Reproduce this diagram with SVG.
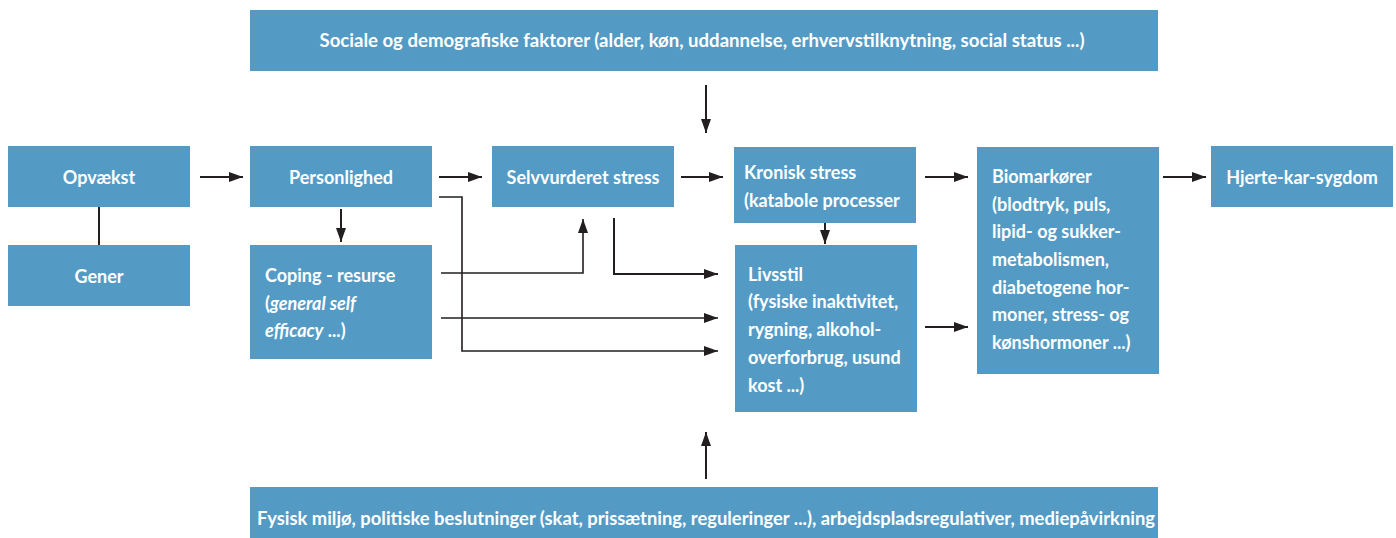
<svg xmlns="http://www.w3.org/2000/svg" width="1396" height="538" viewBox="0 0 1396 538">
<defs>
<style>
.box{fill:#539bc5}
.t{font-family:Lato,"Open Sans","Liberation Sans",sans-serif;font-weight:bold;font-size:18px;fill:#ffffff}
.c{text-anchor:middle}
.ln{fill:none;stroke:#231f20;stroke-width:2}
.thin{fill:none;stroke:#231f20;stroke-width:1.6}
</style>
<marker id="ah" markerUnits="userSpaceOnUse" markerWidth="14" markerHeight="10" refX="14" refY="5" orient="auto">
<path d="M0,0 L14,5 L0,10 z" fill="#231f20"/>
</marker>
</defs>
<rect width="1396" height="538" fill="#ffffff"/>
<g id="sociale">
<rect class="box" x="250" y="10" width="908" height="61"/>
<text class="t c" x="702" y="47" textLength="765" lengthAdjust="spacingAndGlyphs">Sociale og demografiske faktorer (alder, køn, uddannelse, erhvervstilknytning, social status ...)</text>
</g>
<g id="fysisk">
<rect class="box" x="250" y="487" width="908" height="51"/>
<text class="t c" x="706" y="525" textLength="898" lengthAdjust="spacingAndGlyphs">Fysisk miljø, politiske beslutninger (skat, prissætning, reguleringer ...), arbejdspladsregulativer, mediepåvirkning</text>
</g>
<g id="opvaekst">
<rect class="box" x="8" y="146" width="182" height="61"/>
<text class="t c" x="99" y="184">Opvækst</text>
</g>
<g id="gener">
<rect class="box" x="8" y="245" width="182" height="61"/>
<text class="t c" x="99" y="283">Gener</text>
</g>
<g id="personlighed">
<rect class="box" x="250" y="146" width="182" height="61"/>
<text class="t c" x="341" y="184">Personlighed</text>
</g>
<g id="coping">
<rect class="box" x="250" y="245" width="182" height="114"/>
<text class="t" x="265" y="282">Coping - resurse</text>
<text class="t" x="265" y="310">(<tspan font-style="italic">general self</tspan></text>
<text class="t" x="265" y="337"><tspan font-style="italic">efficacy</tspan> ...)</text>
</g>
<g id="selvvurderet">
<rect class="box" x="492" y="146" width="182" height="61"/>
<text class="t c" x="583" y="184">Selvvurderet stress</text>
</g>
<g id="kronisk">
<rect class="box" x="734" y="147" width="182" height="76"/>
<text class="t" x="744" y="179">Kronisk stress</text>
<text class="t" x="744" y="207">(katabole processer</text>
</g>
<g id="livsstil">
<rect class="box" x="735" y="245" width="182" height="167"/>
<text class="t" x="748" y="281">Livsstil</text>
<text class="t" x="748" y="308">(fysiske inaktivitet,</text>
<text class="t" x="748" y="336">rygning, alkohol-</text>
<text class="t" x="748" y="364">overforbrug, usund</text>
<text class="t" x="748" y="392">kost ...)</text>
</g>
<g id="biomarkoerer">
<rect class="box" x="977" y="147" width="182" height="227"/>
<text class="t" x="992" y="183">Biomarkører</text>
<text class="t" x="992" y="211">(blodtryk, puls,</text>
<text class="t" x="992" y="238">lipid- og sukker-</text>
<text class="t" x="992" y="266">metabolismen,</text>
<text class="t" x="992" y="294">diabetogene hor-</text>
<text class="t" x="992" y="321">moner, stress- og</text>
<text class="t" x="992" y="349">kønshormoner ...)</text>
</g>
<g id="hjerte">
<rect class="box" x="1211" y="146" width="182" height="61"/>
<text class="t c" x="1302" y="184">Hjerte-kar-sygdom</text>
</g>
<g id="connectors">
<line class="ln" x1="200" y1="177" x2="243" y2="177" marker-end="url(#ah)"/>
<line class="ln" x1="439" y1="177" x2="482" y2="177" marker-end="url(#ah)"/>
<line class="ln" x1="681" y1="177" x2="723" y2="177" marker-end="url(#ah)"/>
<line class="ln" x1="925" y1="177" x2="968" y2="177" marker-end="url(#ah)"/>
<line class="ln" x1="1163" y1="177" x2="1206" y2="177" marker-end="url(#ah)"/>
<line class="ln" x1="925" y1="327" x2="968" y2="327" marker-end="url(#ah)"/>
<line class="ln" x1="706" y1="85" x2="706" y2="133" marker-end="url(#ah)"/>
<line class="ln" x1="706" y1="479" x2="706" y2="432" marker-end="url(#ah)"/>
<line class="ln" x1="341" y1="209" x2="341" y2="242" marker-end="url(#ah)"/>
<line class="ln" x1="825" y1="223" x2="825" y2="244" marker-end="url(#ah)"/>
<line class="ln" x1="99" y1="207" x2="99" y2="245"/>
<polyline class="thin" points="441,273 583,273 583,219" marker-end="url(#ah)"/>
<polyline class="ln" points="614,218 614,274 718,274" marker-end="url(#ah)"/>
<line class="thin" x1="441" y1="318" x2="718" y2="318" marker-end="url(#ah)"/>
<polyline class="thin" points="439,197 462,197 462,351 718,351" marker-end="url(#ah)"/>
</g>
</svg>
